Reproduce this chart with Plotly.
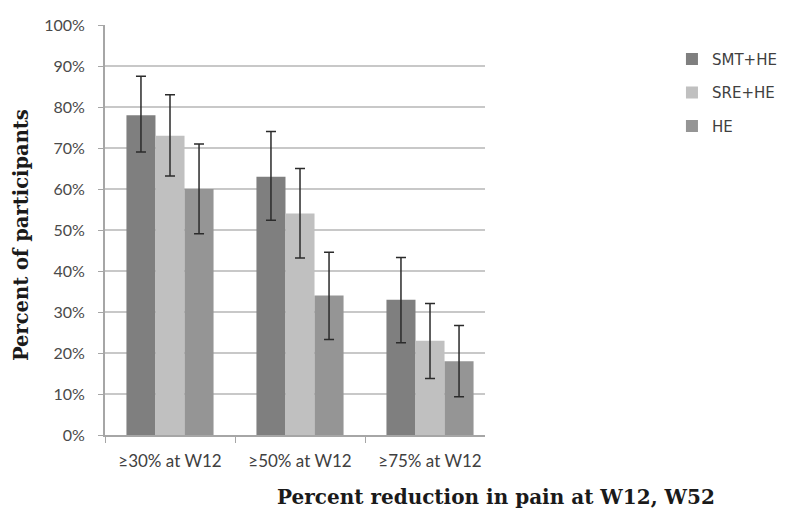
import plotly.graph_objects as go

categories = ["≥30% at W12", "≥50% at W12", "≥75% at W12"]
series_names = ["SMT+HE", "SRE+HE", "HE"]
smt_he = [78, 63, 33]
sre_he = [73, 54, 23]
he = [60, 34, 18]
smt_hi = [87.5, 74, 43.3]
smt_lo = [69, 52.4, 22.5]
sre_hi = [83, 65, 32.1]
sre_lo = [63.2, 43.2, 13.8]
he_hi = [71, 44.6, 26.7]
he_lo = [49.1, 23.3, 9.3]
colors = ["#7f7f7f", "#c0c0c0", "#959595"]

fig = go.Figure()
for name, vals, hi, lo, col in [
    (series_names[0], smt_he, smt_hi, smt_lo, colors[0]),
    (series_names[1], sre_he, sre_hi, sre_lo, colors[1]),
    (series_names[2], he, he_hi, he_lo, colors[2]),
]:
    fig.add_trace(go.Bar(
        x=categories, y=vals, name=name, legendgroup=name,
        marker=dict(color=col, line=dict(width=0)),
        error_y=dict(type="data", symmetric=False,
                     array=[h - v for h, v in zip(hi, vals)],
                     arrayminus=[v - l for v, l in zip(vals, lo)],
                     color="#2b2b2b", thickness=1.5, width=5),
    ))

fig.update_layout(
    width=807, height=508,
    margin=dict(l=105, r=322, t=25, b=73),
    paper_bgcolor="white", plot_bgcolor="white",
    barmode="group", bargap=0.33, bargroupgap=0,
    showlegend=True,
    legend=dict(x=1.492, y=0.957, xanchor="left", yanchor="top",
                traceorder="grouped", tracegroupgap=11,
                font=dict(family="DejaVu Sans", size=15, color="#404040"),
                itemwidth=30),
    xaxis=dict(range=[-0.5, 2.423], showline=True, linecolor="#a6a6a6", linewidth=2,
               ticks="outside", tickson="boundaries", ticklen=6, tickcolor="#a6a6a6",
               ticklabelstandoff=10, automargin=False,
               tickfont=dict(family="Lato", size=17, color="#404040")),
    yaxis=dict(range=[0, 100], dtick=10, ticksuffix="%",
               showline=True, linecolor="#a6a6a6", linewidth=2,
               ticks="outside", ticklen=5, tickcolor="#a6a6a6",
               ticklabelstandoff=10, automargin=False,
               showgrid=True, gridcolor="#c8c8c8", gridwidth=2,
               tickfont=dict(family="Lato", size=16, color="#4a4a4a")),
    annotations=[
        dict(text="<b>Percent reduction in pain at W12, W52</b>", xref="paper", yref="paper",
             x=1.029, y=-0.151, xanchor="center", yanchor="middle", showarrow=False,
             font=dict(family="DejaVu Serif", size=20, color="#1a1a1a")),
        dict(text="<b>Percent of participants</b>", xref="paper", yref="paper",
             x=-0.218, y=0.488, xanchor="center", yanchor="middle", textangle=-90, showarrow=False,
             font=dict(family="DejaVu Serif", size=19.5, color="#1a1a1a")),
    ],
)

fig.write_html("out.html", config={"displayModeBar": False},
               post_script="document.body.style.margin='0';")
